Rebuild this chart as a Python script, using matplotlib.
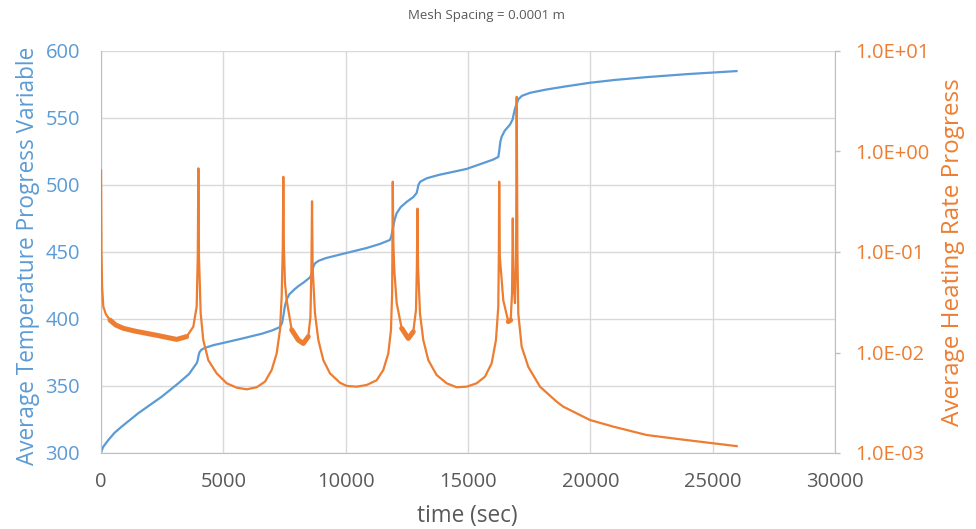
import matplotlib
matplotlib.use('Agg')
import numpy as np
import matplotlib.pyplot as plt
from matplotlib.ticker import FuncFormatter, NullLocator, FixedLocator

plt.rcParams['font.family'] = ['Open Sans', 'DejaVu Sans']

BLUE = '#5B9BD5'
ORANGE = '#ED7D31'
GRID = '#D9D9D9'
SPINE = '#BFBFBF'
TEXT = '#595959'

# average temperature progress variable (left axis)
temp_t = [0, 30, 95, 300, 550, 845, 1525, 2480, 3160, 3600, 3910, 3950, 3980, 4020, 4100,
          4250, 4600, 5200, 5900, 6570, 7000, 7315, 7400, 7450, 7520, 7600, 7700, 7900,
          8065, 8300, 8540, 8620, 8680, 8745, 8900, 9200, 9970, 10860, 11400, 11810,
          11870, 11945, 12000, 12085, 12250, 12500, 12765, 12900, 12940, 12970, 13050,
          13310, 13800, 14945, 16035, 16240, 16280, 16320, 16375, 16500, 16715, 16825,
          16870, 16920, 17000, 17060, 17200, 17535, 18215, 19000, 19985, 21000, 22300,
          24000, 25975]
temp_v = [300, 302, 304.7, 309.7, 315, 319.7, 329.7, 342, 352, 359, 367, 369, 372, 375, 377,
          378.5, 380.5, 383, 386, 389, 391.5, 394, 397, 402, 410, 415, 418.5, 422,
          424.5, 427.5, 431, 434, 439, 441.5, 443.5, 445.5, 449, 453, 456, 459,
          462, 469, 474, 479, 483.5, 487.5, 491, 494, 497, 500, 502.5,
          505, 507.5, 512, 519, 521, 526, 532, 536, 540.5, 545, 549,
          553, 557, 561, 564, 566.5, 568.8, 571.3, 573.6, 576.3, 578.4, 580.5,
          582.8, 585]

# average heating rate progress (right axis, log)
rate_t = [0, 20, 45, 95, 200, 368, 600, 913, 1400, 1866, 2300, 2684, 3093, 3502, 3774,
          3910, 3955, 3980, 4005, 4074, 4181, 4385, 4728, 5137, 5546, 5955, 6364, 6703,
          6976, 7180, 7316, 7384, 7430, 7452, 7475, 7520, 7590, 7794, 8064, 8268, 8472,
          8560, 8600, 8625, 8650, 8746, 8883, 9086, 9359, 9768, 10042, 10450, 10859,
          11268, 11538, 11742, 11852, 11900, 11925, 11950, 11990, 12085, 12290, 12560,
          12764, 12874, 12910, 12935, 12960, 13037, 13173, 13377, 13718, 14127, 14536,
          14945, 15355, 15694, 15967, 16143, 16238, 16260, 16275, 16300, 16443, 16647,
          16744, 16800, 16830, 16860, 16920, 16965, 16990, 17020, 17055, 17194, 17464,
          17942, 18625, 18895, 19985, 20938, 22303, 23664, 25981]
rate_v = [0.65, 0.1, 0.045, 0.0286, 0.024, 0.021, 0.0188, 0.0174, 0.0163, 0.0155, 0.0148,
          0.01415, 0.0135, 0.0144, 0.0181, 0.0286, 0.09, 0.68, 0.09, 0.0245, 0.0133,
          0.0084, 0.0062, 0.00494, 0.00447, 0.0043, 0.00451, 0.00513, 0.0067, 0.0098,
          0.0168, 0.036, 0.11, 0.56, 0.11, 0.049, 0.033, 0.0168, 0.0133, 0.0123, 0.0144,
          0.0227, 0.07, 0.32, 0.07, 0.0245, 0.0133, 0.0084, 0.0062, 0.005, 0.00465,
          0.00457, 0.00475, 0.0053, 0.0067, 0.0098, 0.0168, 0.04, 0.50, 0.12, 0.065,
          0.031, 0.0174, 0.0138, 0.0161, 0.0265, 0.07, 0.27, 0.07, 0.0245, 0.0133,
          0.0084, 0.00597, 0.00494, 0.00451, 0.00457, 0.00494, 0.00575, 0.0078, 0.0133,
          0.0286, 0.09, 0.50, 0.09, 0.033, 0.0203, 0.021, 0.039, 0.216, 0.05, 0.031,
          0.09, 3.5, 0.1, 0.0245, 0.0114, 0.0072, 0.00457, 0.00324, 0.00289, 0.00213,
          0.00183, 0.00151, 0.00137, 0.00117]

# stretches where the rate oscillates fast and the line reads as a thick band
band_windows = [(300, 3720), (7700, 8540), (12200, 12800), (16500, 16780)]

x_ticks = [0, 5000, 10000, 15000, 20000, 25000, 30000]
left_ticks = [300, 350, 400, 450, 500, 550, 600]
right_ticks = [1e-3, 1e-2, 1e-1, 1e0, 1e1]

fig = plt.figure(figsize=(9.76, 5.29), dpi=100)
ax = fig.add_axes([101 / 976, 1 - 453 / 529, 734 / 976, 402 / 529])

ax.plot(temp_t, temp_v, color=BLUE, lw=1.6)
ax.set_xlim(0, 30000)
ax.set_ylim(300, 600)
ax.set_xticks(x_ticks)
ax.set_yticks(left_ticks)
ax.grid(True, color=GRID, lw=1)
ax.set_axisbelow(True)
for s in ['top', 'right']:
    ax.spines[s].set_visible(False)
for s in ['left', 'bottom']:
    ax.spines[s].set_color(SPINE)
ax.tick_params(axis='both', length=0, labelsize=14.5)
ax.tick_params(axis='x', labelcolor=TEXT, pad=14)
ax.tick_params(axis='y', labelcolor=BLUE, pad=15)

ax2 = ax.twinx()
rt = np.array(rate_t)
rv = np.array(rate_v)
ax2.plot(rt, rv, color=ORANGE, lw=1.6)
for lo, hi in band_windows:
    m = (rt >= lo) & (rt <= hi)
    ax2.plot(rt[m], rv[m], color=ORANGE, lw=3.6, solid_capstyle='round')
ax2.set_yscale('log')
ax2.set_ylim(1e-3, 1e1)
ax2.yaxis.set_major_locator(FixedLocator(right_ticks))
ax2.yaxis.set_minor_locator(NullLocator())
ax2.yaxis.set_major_formatter(FuncFormatter(lambda v, pos: f"{v:.1E}"))
for s in ['top', 'left', 'bottom']:
    ax2.spines[s].set_visible(False)
ax2.spines['right'].set_color(SPINE)
ax2.tick_params(axis='y', length=3.6, width=1, color=SPINE, labelcolor=ORANGE,
                labelsize=14.5, pad=11)

fig.text(28 / 976, 1 - 256 / 529, 'Average Temperature Progress Variable', color=BLUE,
         fontsize=16.3, rotation=90, ha='center', va='center')
fig.text(953 / 976, 1 - 252 / 529, 'Average Heating Rate Progress', color=ORANGE,
         fontsize=17.5, rotation=90, ha='center', va='center')
fig.text(467 / 976, 1 - 516 / 529, 'time (sec)', color=TEXT, fontsize=16.3,
         ha='center', va='center')
fig.text(487 / 976, 1 - 15 / 529, 'Mesh Spacing = 0.0001 m', color=TEXT, fontsize=9.5,
         ha='center', va='center')

fig.savefig('out.png', dpi=100)
